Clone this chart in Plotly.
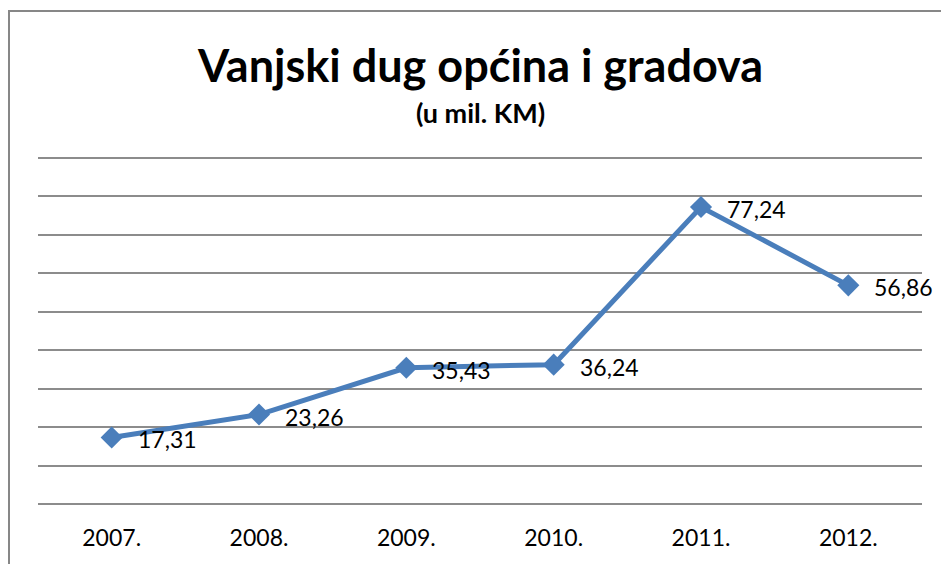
import plotly.graph_objects as go

years = ["2007.", "2008.", "2009.", "2010.", "2011.", "2012."]
debt = [17.31, 23.26, 35.43, 36.24, 77.24, 56.86]
title_text = "Vanjski dug općina i gradova"
subtitle_text = "(u mil. KM)"

W, H = 941, 564
Y_MAX = 90.5
L, R, B = 38, 19, 60
plot_h = round(346 * Y_MAX / 90)
T = H - B - plot_h
plot_w = W - L - R

FONT = "Lato"
LINE_C = "#4A7EBB"
GRID_C = "#8c8c8c"

fig = go.Figure()
fig.add_trace(go.Scatter(
    x=years, y=debt, mode="lines+markers",
    line=dict(color=LINE_C, width=5),
    marker=dict(symbol="diamond", size=17, color=LINE_C),
    hoverinfo="skip", showlegend=False,
))

for i, yv in enumerate(debt):
    fig.add_annotation(
        x=i, y=yv, text=f"{yv:.2f}".replace(".", ","),
        showarrow=False, xanchor="left", yanchor="middle",
        xshift=24, yshift=-2,
        font=dict(family=FONT, size=23, color="#000000"),
    )

fig.add_annotation(
    xref="paper", yref="paper", x=0.5, y=(H - B - 65) / plot_h,
    text=f"<b>{title_text}</b>", showarrow=False,
    xanchor="center", yanchor="middle",
    font=dict(family=FONT, size=45, color="#000000"),
)
fig.add_annotation(
    xref="paper", yref="paper", x=0.5, y=(H - B - 112) / plot_h,
    text=f"<b>{subtitle_text}</b>", showarrow=False,
    xanchor="center", yanchor="middle",
    font=dict(family=FONT, size=27, color="#000000"),
)

# outer chart frame (partially cropped)
fig.add_shape(
    type="rect", xref="paper", yref="paper",
    x0=(9 - L) / plot_w, x1=1.2,
    y0=-0.5, y1=(H - B - 11) / plot_h,
    line=dict(color="#878787", width=2), fillcolor="rgba(0,0,0,0)",
    layer="below",
)

fig.update_layout(
    width=W, height=H,
    margin=dict(l=L, r=R, t=T, b=B),
    paper_bgcolor="white", plot_bgcolor="white",
    font=dict(family=FONT, color="#000000"),
    xaxis=dict(
        type="category", range=[-0.5, 5.5],
        showgrid=False, zeroline=False, showline=False,
        ticks="", ticklabelstandoff=18,
        tickfont=dict(family=FONT, size=23, color="#000000"),
        fixedrange=True,
    ),
    yaxis=dict(
        range=[0, Y_MAX], dtick=10, tick0=0,
        showgrid=True, gridcolor=GRID_C, gridwidth=2,
        zeroline=True, zerolinecolor=GRID_C, zerolinewidth=2,
        showticklabels=False, showline=False, ticks="",
        fixedrange=True,
    ),
)

fig.write_html("out.html", config={"displayModeBar": False},
               post_script="document.body.style.margin='0';")
